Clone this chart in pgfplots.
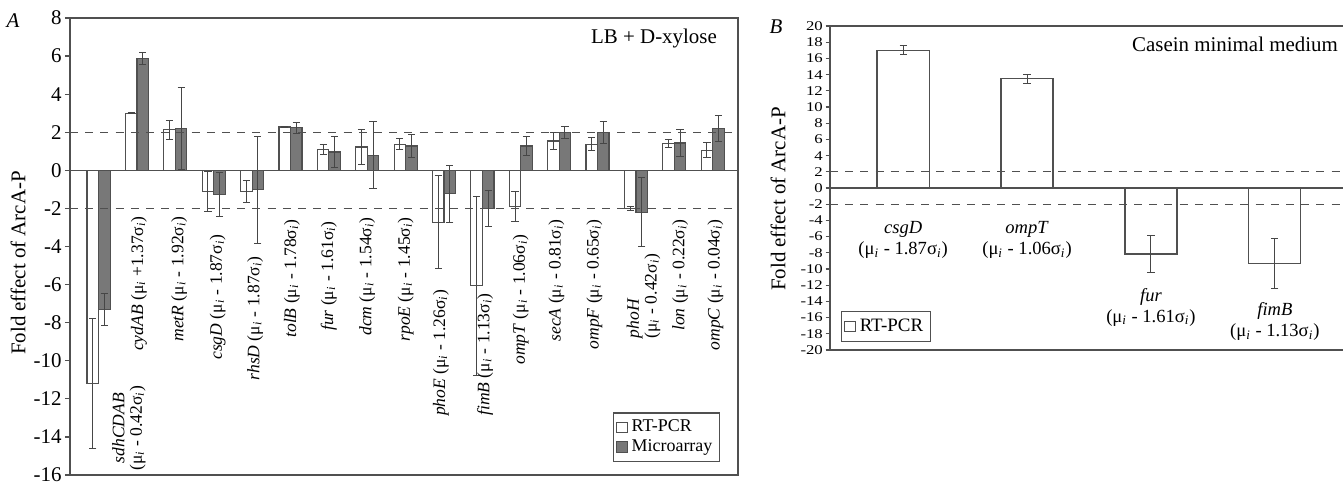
\documentclass[border=0pt]{standalone}
\usepackage{pgfplots}
\pgfplotsset{compat=1.18}
\usepackage{pgfplotstable}
\usepackage{fontspec}
\setmainfont{Liberation Serif}
\definecolor{axisgray}{RGB}{80,80,80}
\definecolor{micro}{RGB}{120,120,120}
\definecolor{errgray}{RGB}{70,70,70}
\newcommand\mi{μ\textsubscript{\textit{i}}}
\newcommand\si{σ\textsubscript{\textit{i}}}

\pgfplotstableread{
i  rt     rte   ma     mae
0  -11.2  3.4   -7.3   0.85
1  3.0    0.03  5.88   0.3
2  2.14   0.5   2.2    2.15
3  -1.1   1.05  -1.28  1.14
4  -1.1   0.57  -1.02  2.8
5  2.28   0.04  2.23   0.27
6  1.1    0.27  0.96   0.83
7  1.23   0.9   0.79   1.75
8  1.37   0.3   1.28   0.6
9  -2.72  2.45  -1.23  1.5
10 -6.05  4.7   -2.0   0.93
11 -1.9   0.8   1.28   0.5
12 1.54   0.45  1.98   0.33
13 1.37   0.33  1.98   0.56
14 -2.0   0.1   -2.2   1.8
15 1.4    0.2   1.44   0.7
16 1.05   0.4   2.2    0.67
}\tableA

\pgfplotstableread{
i  rt     rte
0  17.0   0.55
1  13.5   0.55
2  -8.15  2.3
3  -9.3   3.1
}\tableB

\begin{document}
\begin{tikzpicture}
\useasboundingbox (0,0) rectangle (672bp,241.5bp);
\pgfplotsset{
  myerr/.style={error bars/.cd, y dir=both, y explicit,
    error bar style={line width=0.5pt, draw=errgray},
    error mark options={rotate=90, mark size=1.8bp, line width=0.5pt, draw=errgray}},
  sqlegend/.style={legend image code/.code={\draw[##1, line width=0.5pt] (0bp,-2.6bp) rectangle (5.2bp,2.6bp);}},
}
% Panel A
\begin{axis}[
  at={(35bp,4bp)}, anchor=south west, scale only axis,
  width=334bp, height=228.5bp,
  xmin=-0.745, xmax=16.66, ymin=-16, ymax=8,
  ytick={-16,-14,...,8}, xtick=\empty, ytick pos=left,
  tick align=outside, major tick length=2.5bp,
  axis line style={draw=axisgray, line width=0.7pt},
  every tick/.style={draw=axisgray, line width=0.6pt},
  yticklabel style={font=\fontsize{10.5}{11}\selectfont, /pgf/number format/assume math mode=true, inner sep=1.5bp},
  ybar, bar width=0.3, clip=false,
  legend style={at={(0.973,0.028)}, anchor=south east, draw=axisgray, line width=0.6pt,
    font=\fontsize{9}{9.5}\selectfont, inner sep=1.5bp, row sep=-1.5bp,
    legend cell align=left},
  sqlegend,
]
\addplot[bar shift=-0.15, fill=white, draw=axisgray, line width=0.6pt, myerr]
  table[x=i, y=rt, y error=rte] {\tableA};
\addlegendentry{RT-PCR}
\addplot[bar shift=0.15, fill=micro, draw=axisgray, line width=0.6pt, myerr]
  table[x=i, y=ma, y error=mae] {\tableA};
\addlegendentry{Microarray}
\draw[axisgray, line width=0.7pt] ({rel axis cs:0,0}|-{axis cs:0,0}) -- ({rel axis cs:1,0}|-{axis cs:0,0});
\draw[axisgray, line width=0.6pt, dash pattern=on 4bp off 3.6bp] ({rel axis cs:0,0}|-{axis cs:0,2}) -- ({rel axis cs:1,0}|-{axis cs:0,2});
\draw[axisgray, line width=0.6pt, dash pattern=on 4bp off 3.6bp] ({rel axis cs:0,0}|-{axis cs:0,-2}) -- ({rel axis cs:1,0}|-{axis cs:0,-2});
\begin{scope}[every node/.style={rotate=90, anchor=east, font=\fontsize{8.8}{8.8}\selectfont, inner sep=0.5bp}]
\node[align=center] at (axis cs:0.79,-11.25) {\textit{sdhCDAB}\\(\mi{} - 0.42\si)};
\node at (axis cs:1.05,-2.35) {\textit{cydAB} (\mi{} +1.37\si)};
\node at (axis cs:2.1,-2.35) {\textit{metR} (\mi{} - 1.92\si)};
\node at (axis cs:3.1,-3.3) {\textit{csgD} (\mi{} - 1.87\si)};
\node at (axis cs:4.08,-4.45) {\textit{rhsD} (\mi{} - 1.87\si)};
\node at (axis cs:5.04,-2.5) {\textit{tolB} (\mi{} - 1.78\si)};
\node at (axis cs:6.0,-2.6) {\textit{fur} (\mi{} - 1.61\si)};
\node at (axis cs:7.0,-2.4) {\textit{dcm} (\mi{} - 1.54\si)};
\node at (axis cs:8.0,-2.4) {\textit{rpoE} (\mi{} - 1.45\si)};
\node at (axis cs:8.92,-6.2) {\textit{phoE} (\mi{} - 1.26\si)};
\node at (axis cs:10.07,-6.4) {\textit{fimB} (\mi{} - 1.13\si)};
\node at (axis cs:11.0,-3.3) {\textit{ompT} (\mi{} - 1.06\si)};
\node at (axis cs:11.93,-2.5) {\textit{secA} (\mi{} - 0.81\si)};
\node at (axis cs:12.92,-2.5) {\textit{ompF} (\mi{} - 0.65\si)};
\node[align=left, font=\fontsize{8.8}{7.8}\selectfont] at (axis cs:14.2,-4.3) {\textit{phoH}\\(\mi{} - 0.42\si)};
\node at (axis cs:15.15,-2.5) {\textit{lon} (\mi{} - 0.22\si)};
\node at (axis cs:16.07,-2.5) {\textit{ompC} (\mi{} - 0.04\si)};
\end{scope}
\end{axis}

% Panel B
\begin{axis}[
  at={(415bp,66.5bp)}, anchor=south west, scale only axis,
  width=256.5bp, height=162bp,
  xmin=-0.59, xmax=3.55, ymin=-20, ymax=20,
  ytick={-20,-18,...,20}, xtick=\empty,
  axis x line*=box, axis y line*=left,
  tick align=outside, major tick length=2.2bp,
  axis line style={draw=axisgray, line width=0.7pt},
  every tick/.style={draw=axisgray, line width=0.6pt},
  yticklabel style={font=\fontsize{8.4}{8.4}\selectfont, yscale=0.8, /pgf/number format/assume math mode=true, inner sep=1.2bp},
  ybar, bar width=0.42, clip=false,
  legend style={at={(0.021,0.025)}, anchor=south west, draw=axisgray, line width=0.6pt,
    font=\fontsize{9.5}{10}\selectfont, inner sep=1.5bp},
  sqlegend,
]
\addplot[bar shift=0, fill=white, draw=axisgray, line width=0.6pt, myerr]
  table[x=i, y=rt, y error=rte] {\tableB};
\addlegendentry{RT-PCR}
\draw[axisgray, line width=0.7pt] ({rel axis cs:0,0}|-{axis cs:0,0}) -- ({rel axis cs:1,0}|-{axis cs:0,0});
\draw[axisgray, line width=0.6pt, dash pattern=on 4bp off 3.6bp] ({rel axis cs:0,0}|-{axis cs:0,2}) -- ({rel axis cs:1,0}|-{axis cs:0,2});
\draw[axisgray, line width=0.6pt, dash pattern=on 4bp off 3.6bp] ({rel axis cs:0,0}|-{axis cs:0,-2}) -- ({rel axis cs:1,0}|-{axis cs:0,-2});
\begin{scope}[every node/.style={anchor=north, align=center, font=\fontsize{9.3}{10.5}\selectfont, inner sep=0.5bp}]
\node at (axis cs:0,-4.0) {\textit{csgD}\\(\mi{} - 1.87\si)};
\node at (axis cs:1,-4.0) {\textit{ompT}\\(\mi{} - 1.06\si)};
\node at (axis cs:2,-12.2) {\textit{fur}\\(\mi{} - 1.61\si)};
\node at (axis cs:3,-14.0) {\textit{fimB}\\(\mi{} - 1.13\si)};
\end{scope}
\end{axis}

% free text
\node[font=\fontsize{10.5}{11}\selectfont\itshape] at (6.5bp,231bp) {A};
\node[font=\fontsize{10.5}{11}\selectfont\itshape] at (388bp,228bp) {B};
\node[rotate=90, font=\fontsize{10.5}{11}\selectfont] at (9bp,110bp) {Fold effect of ArcA-P};
\node[rotate=90, font=\fontsize{10.5}{11}\selectfont] at (389bp,142bp) {Fold effect of ArcA-P};
\node[font=\fontsize{10.5}{11}\selectfont] at (327bp,222bp) {LB + D-xylose};
\node[font=\fontsize{10.5}{11}\selectfont] at (617.5bp,219.5bp) {Casein minimal medium};
\end{tikzpicture}
\end{document}
